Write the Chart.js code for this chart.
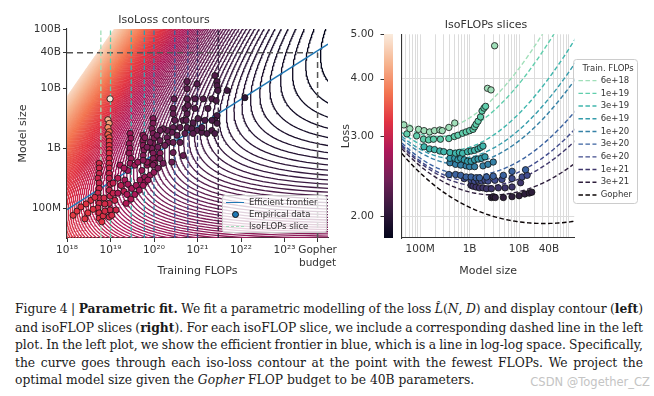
<!DOCTYPE html>
<html>
<head>
<meta charset="utf-8">
<script src="https://cdn.jsdelivr.net/npm/chart.js@4.4.1/dist/chart.umd.min.js"></script>
<style>
  html, body { margin: 0; padding: 0; background: #fff; }
  #wrap { position: relative; width: 654px; height: 396px; overflow: hidden; background: #fff; }
  #boxL { position: absolute; left: 0; top: 0; width: 340px; height: 285px; }
  #boxR { position: absolute; left: 330px; top: 0; width: 324px; height: 285px; }
  #legL { position: absolute; left: 222px; top: 195px; width: 103px; height: 36px;
          border: 1px solid #ccc; border-radius: 3px; background: rgba(255,255,255,0.8);
          font: 8.5px 'DejaVu Sans', sans-serif; color: #333; }
  #legL .row { position: absolute; left: 0; height: 12px; line-height: 12px; }
  #legL .txt { position: absolute; left: 26px; top: 0; white-space: nowrap; }
  #legL .smp { position: absolute; left: 3px; width: 18px; top: 6px; height: 0; }
  #legL .dot { position: absolute; left: 9px; top: 3px; width: 5px; height: 5px; border-radius: 50%;
               background: #1f77b4; border: 0.8px solid #111; }
  #cap { position: absolute; left: 15px; top: 300px; width: 628px;
         font: 12.3px/17.5px 'DejaVu Serif', serif; color: #1a1a1a; }
  #cap .ln { white-space: nowrap; text-align: left; }
  #wm { position: absolute; right: 4px; top: 375px; font: 11.5px 'DejaVu Sans', sans-serif; color: #c4c4c4; }
</style>
</head>
<body>
<div id="wrap">
  <div id="boxL"><canvas id="left" width="340" height="285"></canvas></div>
  <div id="boxR"><canvas id="right" width="324" height="285"></canvas></div>
  <div id="legL">
    <div class="row" style="top:0px;width:100%"><span class="smp" style="border-top:1.5px solid #1f77b4"></span><span class="txt">Efficient frontier</span></div>
    <div class="row" style="top:12px;width:100%"><span class="dot"></span><span class="txt">Empirical data</span></div>
    <div class="row" style="top:24px;width:100%"><span class="smp" style="border-top:1.3px dashed #a0dfb9"></span><span class="txt">IsoFLOPs slice</span></div>
  </div>
  <div id="cap">
    <div class="ln">Figure 4 | <b>Parametric fit.</b> We fit a parametric modelling of the loss <i>L̂</i>(<i>N</i>, <i>D</i>) and display contour (<b>left</b>)</div>
    <div class="ln">and isoFLOP slices (<b>right</b>). For each isoFLOP slice, we include a corresponding dashed line in the left</div>
    <div class="ln">plot. In the left plot, we show the efficient frontier in blue, which is a line in log-log space. Specifically,</div>
    <div class="ln">the curve goes through each iso-loss contour at the point with the fewest FLOPs. We project the</div>
    <div class="ln last">optimal model size given the <i>Gopher</i> FLOP budget to be 40B parameters.</div>
  </div>
  <div id="wm">CSDN @Together_CZ</div>
</div>
<script>
const FONT = "'DejaVu Sans', sans-serif";
Chart.defaults.font.family = FONT;
Chart.defaults.font.size = 10.5;
Chart.defaults.color = '#333';

// fitted loss model  L(N, D) = E + A / N^alpha + B / D^beta
const E = 1.69, A = 406.4, B = 410.7, ALPHA = 0.34, BETA = 0.28;
function lossModel(n, d) { return E + A / Math.pow(n, ALPHA) + B / Math.pow(d, BETA); }

// iso-loss contour levels (evenly spaced)
const levelStart = 1.925, levelStep = 0.03, levelCount = 118;
const colorTop = 5.7;   // loss that maps to the lightest colour on the left panel

// left panel axes
const flopMin = 1e18, flopMax = 1e24;
const sizeMinLeft = 3.16e7, sizeMaxLeft = 1e11;
const flopTicks = [1e18, 1e19, 1e20, 1e21, 1e22, 1e23, 5.76e23];
const flopTickLabels = ['10¹⁸', '10¹⁹', '10²⁰', '10²¹', '10²²', '10²³', ['Gopher', 'budget']];
const sizeTicksLeft = [1e8, 1e9, 1e10, 4e10, 1e11];
const sizeTickLabelsLeft = ['100M', '1B', '10B', '40B', '100B'];

// isoFLOP budgets
const budgets = [6e18, 1e19, 3e19, 6e19, 1e20, 3e20, 6e20, 1e21, 3e21];
const budgetLabels = ['6e+18', '1e+19', '3e+19', '6e+19', '1e+20', '3e+20', '6e+20', '1e+21', '3e+21', 'Gopher'];
const budgetColors = ['#a0dfb9', '#60ceac', '#40b7ad', '#349cab', '#3581a6', '#3a62a0', '#414c8d', '#3e356b', '#2e1e3c', '#0b0405'];
const gopherFlops = 5.76e23, gopherSize = 4e10;

// efficient frontier (straight line in log-log)
const frontierFlops = [1e18, 1e24];
const frontierSize = [9.4e7, 5.6e10];

// empirical runs on the left panel: log10 FLOPs, log10 params, final loss
const runFlopsExp = [
  18.99,18.94,18.97,18.94,18.97,18.94,18.97,18.97,18.97,18.97,18.97,18.97,18.97,18.97,18.97,18.97,18.99,18.97,18.99,18.97,18.99,18.97,
  18.74,18.74,18.74,18.71,18.74,18.74,18.71,18.74,18.74,18.71,18.74,18.74,
  18.14,18.23,18.32,18.44,18.55,18.64,18.48,18.60,18.85,18.87,19.06,19.10,18.83,18.87,19.06,19.17,19.24,19.31,19.13,19.03,18.80,18.41,
  19.45,19.47,19.43,19.45,19.43,19.47,19.45,19.40,
  19.22,19.31,19.56,19.63,19.84,19.91,20.07,20.14,19.33,19.40,19.49,19.59,19.68,19.79,19.91,20.00,19.38,19.47,19.56,19.66,19.36,19.17,19.72,19.79,19.86,19.75,19.95,19.84,
  19.75,19.75,19.75,19.77,19.75,19.75,
  19.98,19.98,19.95,19.98,20.00,19.98,19.95,19.98,19.98,20.02,
  20.44,20.71,20.94,21.24,21.45,21.40,21.45,21.33,21.17,21.01,20.90,20.67,20.48,20.44,20.60,20.76,20.87,20.99,21.10,20.90,20.71,20.53,
  20.41,20.30,20.21,20.14,20.07,20.14,20.30,20.32,20.44,20.60,19.91,19.84,20.09,20.25,20.44,20.67,20.14,20.21,20.41,19.98,20.09,
  20.76,20.99,21.40,21.45,21.45,21.47,21.68,22.09,20.76,20.94,21.13,21.33,21.43,19.79,21.10,21.22,21.33,21.40,20.46,20.44,20.76,20.78,20.76,20.74
];
const runParamsExp = [
  9.83,9.48,9.42,9.35,9.28,9.23,9.18,9.12,9.05,8.98,8.92,8.83,8.75,8.67,8.58,8.50,8.40,8.30,8.20,8.08,7.97,7.85,
  8.75,8.67,8.58,8.50,8.42,8.33,8.25,8.17,8.08,8.00,7.92,7.83,
  7.88,7.95,8.02,8.07,8.13,8.18,7.92,7.98,8.17,8.07,8.25,8.13,7.87,7.95,8.42,8.50,8.38,8.28,7.97,7.88,7.77,7.82,
  9.25,9.17,9.08,9.00,8.92,8.83,8.75,8.63,
  8.72,8.67,8.72,8.77,8.72,8.77,8.85,8.92,8.47,8.40,8.33,8.38,8.47,8.52,8.55,8.60,8.23,8.15,8.23,8.30,8.08,8.25,8.63,8.43,8.47,8.38,8.97,8.77,
  9.22,9.13,9.05,8.97,8.88,8.80,
  9.50,9.42,9.33,9.25,9.17,9.08,9.00,8.92,8.83,8.75,
  9.67,9.67,9.67,9.67,9.55,9.47,9.42,9.47,9.47,9.50,9.43,9.47,9.47,9.35,9.35,9.35,9.33,9.30,9.27,9.25,9.25,9.22,
  9.27,9.30,9.33,9.30,9.22,9.13,9.18,9.10,9.10,9.10,9.10,9.02,9.02,9.05,8.93,8.88,8.83,8.75,8.77,8.72,8.67,
  10.12,10.08,10.22,10.12,10.05,9.97,9.97,9.85,9.83,9.83,9.83,9.83,9.80,9.18,9.35,9.25,9.30,9.25,9.83,9.58,10.00,9.72,9.58,9.47
];
const runLoss = [
  5.7,4.9,4.6,4.4,4.2,4.0,3.85,3.7,3.6,3.55,3.5,3.45,3.4,3.35,3.32,3.3,3.3,3.3,3.32,3.35,3.38,3.42,
  3.4,3.36,3.33,3.32,3.32,3.33,3.35,3.37,3.4,3.43,3.47,3.5,
  3.65,3.6,3.57,3.55,3.5,3.47,3.6,3.55,3.4,3.43,3.3,3.32,3.5,3.45,3.25,3.2,3.2,3.2,3.35,3.43,3.55,3.6,
  2.95,2.93,2.92,2.91,2.91,2.92,2.93,2.95,
  3.05,3.02,2.95,2.93,2.88,2.87,2.83,2.8,3.05,3.05,3.05,3.0,2.97,2.93,2.9,2.88,3.08,3.1,3.05,3.02,3.12,3.12,2.93,2.98,2.95,3.0,2.82,2.87,
  2.83,2.81,2.8,2.79,2.8,2.82,
  2.76,2.73,2.71,2.7,2.69,2.69,2.7,2.72,2.74,2.77,
  2.55,2.5,2.45,2.4,2.36,2.36,2.35,2.37,2.39,2.42,2.44,2.49,2.53,2.54,2.51,2.48,2.46,2.44,2.42,2.46,2.49,2.53,
  2.55,2.57,2.59,2.6,2.62,2.61,2.58,2.58,2.56,2.53,2.68,2.7,2.63,2.6,2.58,2.56,2.64,2.64,2.61,2.72,2.71,
  2.5,2.46,2.42,2.4,2.39,2.38,2.34,2.2,2.5,2.46,2.43,2.4,2.38,2.76,2.42,2.4,2.38,2.37,2.56,2.55,2.5,2.49,2.48,2.49
];

// right panel: isoFLOP slice measurements, one list per budget
const sliceSizes = [
  [4.7e7, 6.2e7, 9.3e7, 1.2e8, 1.55e8, 1.95e8, 2.5e8, 2.8e8, 3.8e8, 5.0e8, 2.3e9, 2.7e9, 3.2e9],
  [5.4e7, 8.5e7, 1.17e8, 1.48e8, 1.86e8, 2.57e8, 3.8e8, 4.9e8, 5.8e8, 7.2e8, 8.5e8, 1.0e9, 1.17e9, 1.26e9, 1.35e9, 1.48e9, 1.66e9, 1.78e9, 1.95e9, 2.1e9],
  [1.2e8, 1.55e8, 1.95e8, 2.5e8, 3.0e8, 4.0e8, 5.2e8, 6.2e8, 7.2e8, 9.1e8, 1.07e9, 1.26e9, 1.48e9, 1.66e9, 1.86e9],
  [4.0e8, 5.0e8, 5.8e8, 6.6e8, 7.8e8, 9.1e8, 1.07e9, 1.26e9, 1.48e9, 1.74e9, 2.04e9],
  [4.0e8, 5.2e8, 6.6e8, 8.5e8, 1.0e9, 1.26e9, 1.86e9, 2.35e9, 3.0e9],
  [3.8e8, 5.2e8, 6.6e8, 8.5e8, 1.07e9, 1.35e9, 1.58e9, 2.2e9, 3.0e9, 4.8e9, 7.2e9, 1.35e10],
  [7.8e8, 1.07e9, 1.26e9, 1.48e9, 1.74e9, 2.04e9, 2.35e9, 3.24e9, 4.5e9, 7.2e9, 1.15e10, 1.45e10],
  [1.07e9, 1.17e9, 1.35e9, 1.58e9, 1.86e9, 2.2e9, 2.75e9, 3.8e9, 5.2e9, 7.2e9, 1.07e10],
  [2.75e9, 3.0e9, 3.3e9, 4.8e9, 7.2e9, 1.0e10, 1.3e10, 1.6e10, 1.8e10]
];
const sliceLosses = [
  [3.17, 3.11, 3.10, 3.08, 3.06, 3.08, 3.09, 3.08, 3.13, 3.20, 3.81, 3.78, 4.72],
  [3.03, 3.00, 2.95, 2.94, 2.95, 2.95, 2.96, 2.99, 3.01, 3.04, 3.06, 3.08, 3.10, 3.14, 3.18, 3.23, 3.30, 3.40, 3.45, 3.48],
  [2.84, 2.81, 2.80, 2.78, 2.77, 2.76, 2.75, 2.76, 2.75, 2.77, 2.78, 2.79, 2.81, 2.83, 2.85],
  [2.68, 2.68, 2.66, 2.68, 2.66, 2.64, 2.64, 2.66, 2.67, 2.68, 2.70],
  [2.62, 2.60, 2.59, 2.58, 2.57, 2.57, 2.58, 2.60, 2.63],
  [2.47, 2.47, 2.46, 2.44, 2.44, 2.43, 2.43, 2.44, 2.45, 2.46, 2.51, 2.53],
  [2.42, 2.40, 2.39, 2.40, 2.39, 2.40, 2.39, 2.40, 2.41, 2.42, 2.44, 2.46],
  [2.34, 2.33, 2.32, 2.31, 2.31, 2.30, 2.30, 2.31, 2.31, 2.32, 2.37],
  [2.20, 2.21, 2.20, 2.20, 2.21, 2.22, 2.24, 2.25, 2.26]
];

// right panel axes
const sizeMinRight = 4.3e7, sizeMaxRight = 1.3e11;
const sizeTicksRight = [1e8, 1e9, 1e10, 4e10];
const sizeTickLabelsRight = ['100M', '1B', '10B', '40B'];
const lossMin = 1.795, lossMax = 5.0;
const lossTicks = [2, 3, 4, 5];
const lossTickLabels = ['2.00', '3.00', '4.00', '5.00'];

// rocket colormap
const rocketStops = ['#03051a', '#35193e', '#701f57', '#ad1759', '#e13342', '#f37651', '#f6b48f', '#faebdd'];
function hexRgb(h) { const n = parseInt(h.slice(1), 16); return [(n >> 16) & 255, (n >> 8) & 255, n & 255]; }
function rocket(t) {
  t = Math.min(1, Math.max(0, t));
  const p = t * (rocketStops.length - 1);
  const i = Math.min(Math.floor(p), rocketStops.length - 2), f = p - i;
  const a = hexRgb(rocketStops[i]), b = hexRgb(rocketStops[i + 1]);
  return 'rgb(' + a.map((v, k) => Math.round(v + (b[k] - v) * f)).join(',') + ')';
}
// colorbar scale (right panel axis) and the contour/marker scale (level range)
const barColor = l => rocket(Math.log(l / lossMin) / Math.log(lossMax / lossMin));
const markColor = l => rocket(Math.log(l / levelStart) / Math.log(colorTop / levelStart));

const titleFont = { family: FONT, size: 11, weight: 'normal' };
const axisTitleFont = { family: FONT, size: 11 };
const spine = { display: true, color: '#333', width: 1.1 };

// ---------- left panel ----------
const leftSets = [];

leftSets.push({
  label: 'Empirical data',
  data: runFlopsExp.map((c, i) => ({ x: Math.pow(10, c), y: Math.pow(10, runParamsExp[i]) })),
  pointRadius: 3.1,
  pointBackgroundColor: runLoss.map(markColor),
  pointBorderColor: '#111',
  pointBorderWidth: 0.8,
  order: 0
});

leftSets.push({
  label: 'Efficient frontier',
  data: frontierFlops.map((c, i) => ({ x: c, y: frontierSize[i] })),
  showLine: true, pointRadius: 0, borderColor: '#1f77b4', borderWidth: 1.5, order: 1
});

budgets.forEach((c, i) => {
  leftSets.push({
    label: 'IsoFLOPs ' + budgetLabels[i],
    data: [{ x: c, y: sizeMinLeft }, { x: c, y: sizeMaxLeft }],
    showLine: true, pointRadius: 0, borderColor: budgetColors[i], borderWidth: 1.3,
    borderDash: [4.5, 2.5], order: 2
  });
});

leftSets.push({
  label: 'Gopher budget',
  data: [{ x: gopherFlops, y: sizeMinLeft }, { x: gopherFlops, y: gopherSize }],
  showLine: true, pointRadius: 0, borderColor: '#555', borderWidth: 1.5, borderDash: [6, 4], order: 2
});
leftSets.push({
  label: 'Gopher size',
  data: [{ x: flopMin, y: gopherSize }, { x: gopherFlops, y: gopherSize }],
  showLine: true, pointRadius: 0, borderColor: '#555', borderWidth: 1.5, borderDash: [6, 4], order: 2
});

// iso-loss contours of the fitted model
for (let j = 0; j < levelCount; j++) {
  const level = levelStart + j * levelStep;
  const pts = [];
  for (let k = 0; k <= 200; k++) {
    const n = Math.pow(10, 7.4 + k * 0.019);
    const r = level - E - A / Math.pow(n, ALPHA);
    if (r <= 0) continue;
    const d = Math.pow(B / r, 1 / BETA);
    pts.push({ x: 6 * n * d, y: n });
  }
  leftSets.push({
    label: 'L=' + level.toFixed(3),
    data: pts, showLine: true, pointRadius: 0,
    borderColor: markColor(level), borderWidth: 1.3, order: 3
  });
}

new Chart(document.getElementById('left'), {
  type: 'scatter',
  data: { datasets: leftSets },
  options: {
    responsive: false, animation: false, events: [],
    layout: { padding: { left: 0, right: 12, top: 0, bottom: 0 } },
    plugins: {
      legend: { display: false },
      tooltip: { enabled: false },
      title: { display: true, text: 'IsoLoss contours', font: titleFont, color: '#333', padding: { top: 13.4, bottom: 2.4 } }
    },
    scales: {
      x: {
        type: 'logarithmic', min: flopMin, max: flopMax,
        afterBuildTicks: s => { s.ticks = flopTicks.map(v => ({ value: v })); },
        afterFit: s => { s.height = 47; },
        ticks: { autoSkip: false, maxRotation: 0, padding: 2, callback: (v, i) => flopTickLabels[i] },
        grid: { display: true, drawOnChartArea: false, drawTicks: true, tickLength: 4, color: '#333' },
        border: spine,
        title: { display: true, text: 'Training FLOPs', font: axisTitleFont, padding: { top: 0, bottom: 7.4 } }
      },
      y: {
        type: 'logarithmic', min: sizeMinLeft, max: sizeMaxLeft,
        afterBuildTicks: s => { s.ticks = sizeTicksLeft.map(v => ({ value: v })); },
        afterFit: s => { s.width = 67; },
        ticks: { autoSkip: false, padding: 2, callback: (v, i) => sizeTickLabelsLeft[i] },
        grid: { display: true, drawOnChartArea: false, drawTicks: true, tickLength: 4, color: '#333' },
        border: spine,
        title: { display: true, text: 'Model size', font: axisTitleFont, padding: { top: 16.4, bottom: 0 } }
      }
    }
  }
});

// ---------- right panel ----------
const colorbarPlugin = {
  id: 'colorbar',
  afterDraw(chart) {
    const { ctx, chartArea } = chart;
    const y = chart.scales.y;
    const x0 = chartArea.left - 18, w = 9;
    ctx.save();
    for (let py = Math.floor(chartArea.top); py < Math.ceil(chartArea.bottom); py++) {
      ctx.fillStyle = barColor(y.getValueForPixel(py + 0.5));
      ctx.fillRect(x0, py, w, 1);
    }
    ctx.strokeStyle = '#333';
    ctx.lineWidth = 1;
    lossTicks.forEach(v => {
      const py = Math.round(y.getPixelForValue(v)) + 0.5;
      ctx.beginPath(); ctx.moveTo(x0 - 3.5, py); ctx.lineTo(x0, py); ctx.stroke();
    });
    ctx.restore();
  }
};

const legendBoxPlugin = {
  id: 'legendBox',
  afterDraw(chart) {
    const lg = chart.legend;
    if (!lg || !lg.legendHitBoxes || !lg.legendHitBoxes.length) return;
    const hb = lg.legendHitBoxes;
    const ctx = chart.ctx;
    ctx.save();
    ctx.font = '8.5px ' + FONT;
    const tw = ctx.measureText('Train. FLOPs').width;
    const itemsLeft = hb[0].left, itemsRight = Math.max(...hb.map(h => h.left + h.width));
    const cx = (itemsLeft + itemsRight) / 2;
    const left = Math.min(itemsLeft - 5, cx - tw / 2 - 5);
    const right = Math.max(itemsRight + 5, cx + tw / 2 + 5);
    const top = hb[0].top - 17, last = hb[hb.length - 1];
    const bottom = last.top + last.height + 4;
    ctx.strokeStyle = '#cccccc';
    ctx.lineWidth = 1;
    ctx.beginPath();
    ctx.roundRect(Math.round(left) + 0.5, Math.round(top) + 0.5, Math.round(right - left), Math.round(bottom - top), 3);
    ctx.stroke();
    ctx.restore();
  }
};

const rightSets = [];
budgets.concat([gopherFlops]).forEach((c, i) => {
  const pts = [];
  for (let k = 0; k <= 90; k++) {
    const n = Math.pow(10, 7.55 + k * 0.04);
    pts.push({ x: n, y: lossModel(n, c / (6 * n)) });
  }
  rightSets.push({
    label: budgetLabels[i], data: pts, showLine: true, pointRadius: 0,
    borderColor: budgetColors[i], borderWidth: 1.4, borderDash: [4.5, 2.5], order: 1
  });
});
budgets.forEach((c, i) => {
  rightSets.push({
    label: 'runs ' + budgetLabels[i], isPoints: true,
    data: sliceSizes[i].map((n, k) => ({ x: n, y: sliceLosses[i][k] })),
    pointRadius: 3.2, pointBackgroundColor: budgetColors[i], pointBorderColor: '#111',
    pointBorderWidth: 0.8, order: 0
  });
});

const gridGrey = '#dcdcdc';
new Chart(document.getElementById('right'), {
  type: 'scatter',
  data: { datasets: rightSets },
  plugins: [colorbarPlugin, legendBoxPlugin],
  options: {
    responsive: false, animation: false, events: [],
    layout: { padding: { left: 0, right: 12, top: 0, bottom: 0 } },
    plugins: {
      tooltip: { enabled: false },
      title: { display: true, text: 'IsoFLOPs slices', font: titleFont, color: '#333', padding: { top: 13.4, bottom: 2.4 } },
      legend: {
        position: 'right', align: 'start',
        title: { display: true, text: 'Train. FLOPs', color: '#333', font: { family: FONT, size: 8.5 }, padding: { top: 65, bottom: -3 } },
        labels: {
          generateLabels: chart => Chart.defaults.plugins.legend.labels.generateLabels(chart)
            .filter(it => !chart.data.datasets[it.datasetIndex].isPoints)
            .map(it => {
              const ds = chart.data.datasets[it.datasetIndex];
              return Object.assign(it, { pointStyle: 'line', lineDash: ds.borderDash, lineWidth: 1.4,
                                         strokeStyle: ds.borderColor, fillStyle: ds.borderColor });
            }),
          usePointStyle: true, pointStyleWidth: 18,
          color: '#333', font: { family: FONT, size: 8.5 }, padding: 4.2
        }
      }
    },
    scales: {
      x: {
        type: 'logarithmic', min: sizeMinRight, max: sizeMaxRight,
        afterBuildTicks: s => {
          const vals = [];
          for (let e = 7; e <= 11; e++) for (let m = 1; m <= 9; m++) {
            const v = m * Math.pow(10, e);
            if (v >= sizeMinRight && v <= sizeMaxRight) vals.push(v);
          }
          s.ticks = vals.map(v => ({ value: v }));
        },
        afterFit: s => { s.height = 47; },
        ticks: {
          autoSkip: false, maxRotation: 0, padding: 5,
          callback: v => { const i = sizeTicksRight.findIndex(t => Math.abs(t - v) / t < 1e-6); return i < 0 ? '' : sizeTickLabelsRight[i]; }
        },
        grid: { color: gridGrey, lineWidth: 1, drawTicks: false },
        border: spine,
        title: { display: true, text: 'Model size', font: axisTitleFont, padding: { top: 0, bottom: 7.4 } }
      },
      y: {
        type: 'logarithmic', min: lossMin, max: lossMax,
        afterBuildTicks: s => { s.ticks = lossTicks.map(v => ({ value: v })); },
        afterFit: s => { s.width = 72; },
        ticks: { autoSkip: false, padding: 28, callback: (v, i) => lossTickLabels[i] },
        grid: { color: ctx => (ctx.tick && ctx.tick.value === lossMax ? 'rgba(0,0,0,0)' : gridGrey), lineWidth: 1, drawTicks: false },
        border: spine,
        title: { display: true, text: 'Loss', font: axisTitleFont, padding: { top: 10, bottom: 0 } }
      }
    }
  }
});

// justify caption lines to the column width (squeeze word spacing where a line runs long)
const capWidth = 628;
document.querySelectorAll('#cap .ln').forEach(el => {
  const r = document.createRange();
  r.selectNodeContents(el);
  const w = r.getBoundingClientRect().width;
  if (el.classList.contains('last')) return;
  const gaps = (el.textContent.trim().match(/ /g) || []).length;
  if (gaps) el.style.wordSpacing = ((capWidth - w) / gaps).toFixed(3) + 'px';
});
</script>
</body>
</html>
